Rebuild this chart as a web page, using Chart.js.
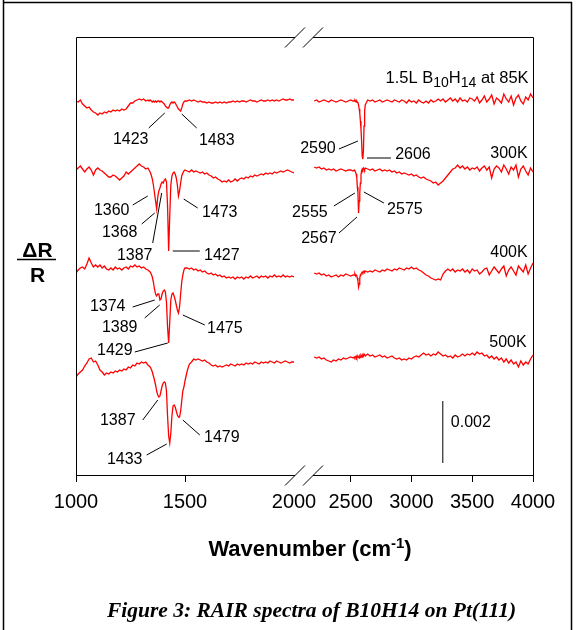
<!DOCTYPE html>
<html lang="en">
<head>
<meta charset="UTF-8">
<title>RAIR spectra of B10H14 on Pt(111)</title>
<script src="https://cdn.jsdelivr.net/npm/chart.js"></script>
<style>
    html, body { margin: 0; padding: 0; background: #fff; }
    canvas { display: block; }
</style>
</head>
<body>
<canvas id="chartCanvas" width="580" height="630"></canvas>
<script>
// signal unit: 1 = 0.002/62 of dR/R (the 0.002 scale bar is 62 units tall)
// wavenumber grid of the left panel (1000-2000 cm-1)
const leftWn = [
    1000,1010,1020,1030,1040,1050,1060,1070,1080,1090,
    1100,1110,1120,1130,1140,1150,1160,1170,1180,1190,
    1200,1210,1220,1230,1240,1250,1260,1270,1280,1290,
    1300,1310,1320,1330,
    1335,1340,1345,1350,1355,1360,1365,1370,1375,1380,
    1385,1390,1395,1400,1405,1410,1415,1420,1425,1430,
    1435,1440,1445,1450,1455,1460,1465,1470,1475,1480,
    1485,1490,1495,1500,
    1510,1520,1530,1540,1550,1560,1570,1580,1590,1600,
    1610,1620,1630,1640,1650,1660,1670,1680,1690,1700,
    1710,1720,1730,1740,1750,1760,1770,1780,1790,1800,
    1810,1820,1830,1840,1850,1860,1870,1880,1890,1900,
    1910,1920,1930,1940,1950,1960,1970,1980,1990,2000
];
// wavenumber grid of the right panel (2200-4000 cm-1)
const rightWn = [
    2200,2220,2240,2260,2280,2300,2320,2340,2360,2380,
    2400,2420,2440,2460,2480,2500,2520,
    2530,2535,2540,2545,2550,2555,2560,2565,2570,2575,
    2580,2585,2590,2595,2600,2605,2610,2615,2620,
    2640,2660,2680,2700,2720,2740,2760,2780,2800,2820,
    2840,2860,2880,2900,2920,2940,2960,2980,3000,3020,
    3040,3060,3080,3100,3120,3140,3160,3180,3200,3220,
    3240,3260,3280,3300,3320,3340,3360,3380,3400,3420,
    3440,3460,3480,3500,3520,3540,3560,3580,3600,3620,
    3640,3660,3680,3700,3720,3740,3760,3780,3800,3820,
    3840,3860,3880,3900,3920,3940,3960,3980,4000
];

const temps = ['85K', '300K', '400K', '500K'];
const traceOffsets = [374, 304, 203, 114];

const left85 = [
    0,-1,1,-3,-5,-7,-6,-9,-11,-12,
    -14,-12,-13,-11,-12,-10,-11,-9,-10,-9,
    -10,-8,-9,-8,-5,-2,-2,0,1,2,
    1,2,0,1,
    0,1,0,-1,0,-1,0,-1,0,0,
    -1,0,-1,-2,-3,-5,-6,-7,-7,-4,
    -2,-1,-2,-1,-2,-4,-6,-8,-9,-10,
    -7,-3,-1,0,
    0,1,0,1,0,-1,0,-1,-1,-2,
    -1,-2,-2,-1,-2,-1,-2,-1,-2,-1,
    -1,0,-1,0,-1,0,0,-1,0,1,
    0,0,-1,0,1,0,0,1,0,1,
    0,1,0,1,2,1,1,2,1,1
];
const left300 = [
    1,3,5,2,-1,2,4,1,-4,1,
    3,1,0,-2,-4,-6,-6,-4,-5,-7,
    -9,-7,-5,-1,-3,-1,1,3,5,7,
    5,4,2,3,
    1,-1,-4,-8,-14,-22,-30,-38,-26,-20,
    -17,-13,-11,-12,-9,-8,-11,-35,-80,-45,
    -14,-5,-2,-1,-3,-7,-14,-25,-20,-12,
    -5,-2,0,1,
    0,-1,1,-1,0,-1,-2,-1,-3,-2,
    -4,-5,-7,-6,-8,-9,-11,-10,-11,-9,
    -11,-10,-8,-10,-8,-7,-8,-6,-7,-5,
    -6,-4,-5,-4,-3,-4,-2,-3,-2,-3,
    -1,-2,-1,0,-1,0,1,0,-1,-2
];
const left400 = [
    -1,2,4,5,3,8,14,9,5,7,
    5,7,4,6,3,2,4,2,5,3,
    4,2,4,5,3,6,5,7,5,6,
    4,5,3,2,
    1,0,-2,-5,-10,-17,-22,-24,-22,-22,
    -28,-27,-22,-19,-18,-20,-30,-55,-71,-50,
    -28,-22,-21,-24,-28,-33,-38,-41,-35,-22,
    -10,-3,2,4,
    4,3,4,2,3,1,2,0,1,-1,
    -2,-1,-3,-2,-4,-3,-5,-4,-6,-5,
    -6,-5,-7,-5,-6,-5,-7,-5,-6,-4,
    -6,-5,-4,-6,-4,-5,-4,-6,-4,-5,
    -3,-5,-4,-5,-3,-5,-4,-5,-4,-5
];
const left500 = [
    -16,-13,-11,-9,-5,-2,2,3,-1,0,
    -4,-9,-11,-14,-12,-13,-11,-12,-10,-11,
    -9,-10,-8,-9,-6,-7,-4,-5,-2,-3,
    -1,-2,-1,-4,
    -5,-6,-8,-11,-15,-19,-24,-30,-34,-36,
    -35,-30,-25,-22,-21,-22,-30,-55,-75,-82,
    -72,-55,-45,-44,-46,-50,-54,-56,-56,-50,
    -40,-30,-26,-20,
    -10,-3,-1,2,1,2,1,0,1,-1,
    -2,-4,-5,-4,-6,-5,-6,-5,-4,-5,
    -3,-4,-5,-3,-4,-3,-4,-2,-3,-2,
    -3,-1,-2,-3,-1,-2,-1,-2,0,-1,
    -2,0,-1,-2,-1,0,-1,-2,-1,-1
];

const right85 = [
    0,1,-1,0,1,0,-1,1,0,-1,
    0,1,0,-1,0,1,0,
    0,1,0,-1,0,-1,-2,-4,-8,-12,
    -20,-28,-40,-55,-58,-50,-25,-10,-4,
    1,0,1,-1,0,1,-1,0,1,0,
    -1,1,0,-1,1,0,-2,1,-1,0,
    -2,1,-1,-2,0,-2,1,-1,0,2,
    0,2,-1,1,3,0,2,-1,3,0,
    1,-1,3,2,0,4,-2,1,5,-1,
    2,6,-3,3,1,-2,7,2,-1,5,
    -4,3,6,0,-3,4,1,7,3
];
const right300 = [
    4,3,4,2,3,1,2,1,2,0,
    1,2,1,0,1,1,0,
    1,0,-1,-3,-6,-16,-22,-42,-30,-22,
    -12,-4,0,2,1,3,2,1,3,
    2,1,2,0,1,2,0,1,0,1,
    -1,0,-2,-1,-3,-2,-3,-4,-3,-5,
    -4,-6,-7,-6,-8,-9,-10,-12,-11,-14,
    -12,-10,-7,-4,-1,2,3,6,3,5,
    2,4,1,3,2,4,0,3,5,1,
    4,-7,2,5,3,-1,6,2,-3,4,
    1,6,-6,2,5,0,-4,3,-1
];
const right400 = [
    -1,-2,-1,-3,-2,-4,-3,-5,-4,-3,
    -5,-3,-4,-2,-3,-4,-3,
    -3,-2,-4,-3,-4,-6,-9,-15,-12,-6,
    -3,-2,-1,0,-1,0,1,0,1,
    0,1,0,2,1,0,2,1,3,2,
    1,3,2,4,3,2,4,3,5,3,
    4,2,1,-1,-3,-4,-6,-7,-8,-7,
    -8,-2,1,3,1,3,0,2,1,3,
    0,2,-1,3,1,2,-2,0,3,4,
    -3,1,5,2,-1,3,6,-4,2,5,
    1,-3,6,3,0,7,-2,4,9
];
const right500 = [
    4,3,4,2,3,1,0,-1,1,0,
    2,1,3,2,3,4,3,
    4,3,4,5,3,4,5,4,3,5,
    4,6,5,4,6,5,7,6,5,
    7,5,6,4,5,6,4,5,3,4,
    5,3,2,3,1,2,1,3,2,4,
    5,4,6,8,6,7,5,7,6,9,
    7,5,6,4,5,3,6,4,5,7,
    5,7,6,8,6,9,7,8,5,6,
    3,5,2,4,1,3,-1,2,-2,1,
    -3,-1,-6,0,-4,-1,-3,2,6
];

const leftTraces = [left85, left300, left400, left500];
const rightTraces = [right85, right300, right400, right500];

// x axis tick values of the two panels
const leftTicks = [1000, 1500, 2000];
const rightTicks = [2500, 3000, 3500, 4000];

// 0.002 scale bar
const barWn = 3258;
const barEnds = [12, 74];

// peak assignments: tip of the leader on the spectrum (wavenumber, signal),
// leader end and label centre as pixel offsets from the tip
const peakLabels = [
    { text: '1423', axis: 'x',  w: 1407, v: 362, end: [-16, 15], at: [-34, 25] },
    { text: '1483', axis: 'x',  w: 1485, v: 361, end: [15, 14],  at: [35, 25] },
    { text: '2590', axis: 'x2', w: 2560, v: 334, end: [-19, 8],  at: [-40, 6] },
    { text: '2606', axis: 'x2', w: 2634, v: 317, end: [24, 0],   at: [46, -5] },
    { text: '1360', axis: 'x',  w: 1329, v: 279, end: [-15, 9],  at: [-36, 13] },
    { text: '1368', axis: 'x',  w: 1361, v: 262, end: [-13, 11], at: [-35, 18] },
    { text: '1387', axis: 'x',  w: 1393, v: 282, end: [-9, 50],  at: [-27, 61] },
    { text: '1427', axis: 'x',  w: 1444, v: 224, end: [27, 0],   at: [49, 3] },
    { text: '1473', axis: 'x',  w: 1494, v: 276, end: [14, 9],   at: [36, 12] },
    { text: '2555', axis: 'x2', w: 2535, v: 282, end: [-21, 13], at: [-45, 18] },
    { text: '2575', axis: 'x2', w: 2609, v: 283, end: [20, 11],  at: [41, 16] },
    { text: '2567', axis: 'x2', w: 2552, v: 258, end: [-18, 16], at: [-38, 20] },
    { text: '1374', axis: 'x',  w: 1361, v: 175, end: [-22, 7],  at: [-47, 5] },
    { text: '1389', axis: 'x',  w: 1384, v: 170, end: [-15, 13], at: [-40, 21] },
    { text: '1475', axis: 'x',  w: 1490, v: 160, end: [22, 10],  at: [42, 12] },
    { text: '1429', axis: 'x',  w: 1421, v: 132, end: [-33, 9],  at: [-53, 6] },
    { text: '1387', axis: 'x',  w: 1375, v: 75,  end: [-15, 20], at: [-40, 19] },
    { text: '1479', axis: 'x',  w: 1490, v: 55,  end: [17, 15],  at: [39, 16] },
    { text: '1433', axis: 'x',  w: 1416, v: 31,  end: [-20, 11], at: [-42, 14] }
];

// temperature labels, right aligned (wavenumber of right edge, signal at baseline)
const tempLabels = [
    { text: '300K', w: 3956, v: 317 },
    { text: '400K', w: 3956, v: 218 },
    { text: '500K', w: 3948, v: 128 }
];

const FONT = '"Liberation Sans", Arial, sans-serif';
const RED = '#ff0000';

function traceData(wn, dev, off) {
    return wn.map((w, i) => ({ x: w, y: off + dev[i] }));
}

const datasets = [];
temps.forEach((t, k) => {
    datasets.push({
        label: t + ' (1000-2000)',
        xAxisID: 'x',
        data: traceData(leftWn, leftTraces[k], traceOffsets[k]),
        borderColor: RED, borderWidth: 1.3, pointRadius: 0, tension: 0, fill: false
    });
    datasets.push({
        label: t + ' (2200-4000)',
        xAxisID: 'x2',
        data: traceData(rightWn, rightTraces[k], traceOffsets[k]),
        borderColor: RED, borderWidth: 1.3, pointRadius: 0, tension: 0, fill: false
    });
});
datasets.push({
    label: 'scale bar',
    xAxisID: 'x2',
    data: barEnds.map(v => ({ x: barWn, y: v })),
    borderColor: '#000', borderWidth: 1, pointRadius: 0
});

// text with sub/superscripts: parts = [text, size, shift, weight]
function richText(c, parts, x, y, align) {
    let total = 0;
    parts.forEach(p => {
        c.font = (p[3] || '') + p[1] + 'px ' + FONT;
        total += c.measureText(p[0]).width;
    });
    let cx = align === 'right' ? x - total : align === 'center' ? x - total / 2 : x;
    c.textAlign = 'left';
    c.textBaseline = 'alphabetic';
    parts.forEach(p => {
        c.font = (p[3] || '') + p[1] + 'px ' + FONT;
        c.fillText(p[0], cx, y + p[2]);
        cx += c.measureText(p[0]).width;
    });
}

function line(c, x1, y1, x2, y2) {
    c.beginPath();
    c.moveTo(x1, y1);
    c.lineTo(x2, y2);
    c.stroke();
}

const decor = {
    id: 'decor',
    afterDraw(chart) {
        const c = chart.ctx;
        const a = chart.chartArea;
        const ys = chart.scales.y;
        const x2 = chart.scales.x2;
        c.save();
        c.strokeStyle = '#000';
        c.fillStyle = '#000';
        c.lineWidth = 1;

        // frame with the axis break
        const L = Math.round(a.left) + 0.5, R = Math.round(a.right) + 0.5;
        const T = Math.round(a.top) + 0.5, B = Math.round(a.bottom) + 0.5;
        const brk = chart.scales.x.right + 10;
        line(c, L, T, L, B);
        line(c, R, T, R, B);
        [T, B].forEach(yy => {
            line(c, L, yy, brk - 9, yy);
            line(c, brk + 9, yy, R, yy);
            line(c, brk - 19, yy + 10, brk + 1, yy - 10);
            line(c, brk - 1, yy + 10, brk + 19, yy - 10);
        });

        // peak labels
        c.font = '16px ' + FONT;
        c.textAlign = 'center';
        c.textBaseline = 'alphabetic';
        peakLabels.forEach(p => {
            const px = chart.scales[p.axis].getPixelForValue(p.w);
            const py = ys.getPixelForValue(p.v);
            line(c, px, py, px + p.end[0], py + p.end[1]);
            c.fillText(p.text, px + p.at[0], py + p.at[1] + 6);
        });

        // temperatures
        c.textAlign = 'right';
        tempLabels.forEach(t => {
            c.fillText(t.text, x2.getPixelForValue(t.w), ys.getPixelForValue(t.v));
        });
        richText(c, [['1.5L B', 16.5, 0], ['10', 14, 4], ['H', 16.5, 0], ['14', 14, 4], [' at 85K', 16.5, 0]],
            x2.getPixelForValue(3964), ys.getPixelForValue(392), 'right');

        // scale bar label
        c.font = '16px ' + FONT;
        c.textAlign = 'left';
        c.fillText('0.002', x2.getPixelForValue(barWn) + 8, ys.getPixelForValue(48));

        // axis titles
        richText(c, [['Wavenumber (cm', 22, 0, 'bold '], ['-1', 15, -8, 'bold '], [')', 22, 0, 'bold ']],
            310, 556, 'center');
        c.font = 'bold 21px ' + FONT;
        c.textAlign = 'center';
        c.fillText('\u0394R', 37.5, 257);
        c.fillText('R', 37.5, 282);
        c.lineWidth = 1.5;
        line(c, 17, 259.5, 56, 259.5);

        // caption
        c.font = 'bold italic 21.5px "Liberation Serif", "Times New Roman", serif';
        c.fillText('Figure 3: RAIR spectra of B10H14 on Pt(111)', 311.5, 617);

        // page frame
        c.lineWidth = 1.5;
        line(c, 3.5, 0, 3.5, 630);
        line(c, 3, 2.5, 572, 2.5);
        line(c, 571.5, 2, 571.5, 630);
        c.restore();
    }
};

const tickFont = { family: FONT, size: 20 };
const plainTick = v => String(v);

new Chart(document.getElementById('chartCanvas'), {
    type: 'line',
    data: { datasets },
    options: {
        responsive: false,
        animation: false,
        events: [],
        layout: { padding: { left: 76, right: 47, top: 37, bottom: 0 } },
        plugins: { legend: { display: false }, tooltip: { enabled: false } },
        scales: {
            x: {
                type: 'linear', position: 'bottom',
                stack: 'wn', stackWeight: 218,
                min: 1000, max: 2000,
                afterBuildTicks: s => { s.ticks = leftTicks.map(v => ({ value: v })); },
                afterFit: s => { s.height = 155; },
                border: { display: false },
                grid: {
                    drawOnChartArea: false, tickLength: 7,
                    tickColor: ctx => (ctx.tick && ctx.tick.value === 2000 ? 'rgba(0,0,0,0)' : '#000')
                },
                ticks: { color: '#000', font: tickFont, padding: 8, maxRotation: 0, autoSkip: false, callback: plainTick }
            },
            x2: {
                type: 'linear', position: 'bottom',
                stack: 'wn', stackWeight: 239,
                min: 2034, max: 4000,
                afterBuildTicks: s => { s.ticks = rightTicks.map(v => ({ value: v })); },
                afterFit: s => { s.height = 155; },
                border: { display: false },
                grid: { drawOnChartArea: false, tickLength: 7, tickColor: '#000' },
                ticks: { color: '#000', font: tickFont, padding: 8, maxRotation: 0, autoSkip: false, callback: plainTick }
            },
            y: { type: 'linear', display: false, min: 0, max: 438 }
        }
    },
    plugins: [decor]
});
</script>
</body>
</html>
